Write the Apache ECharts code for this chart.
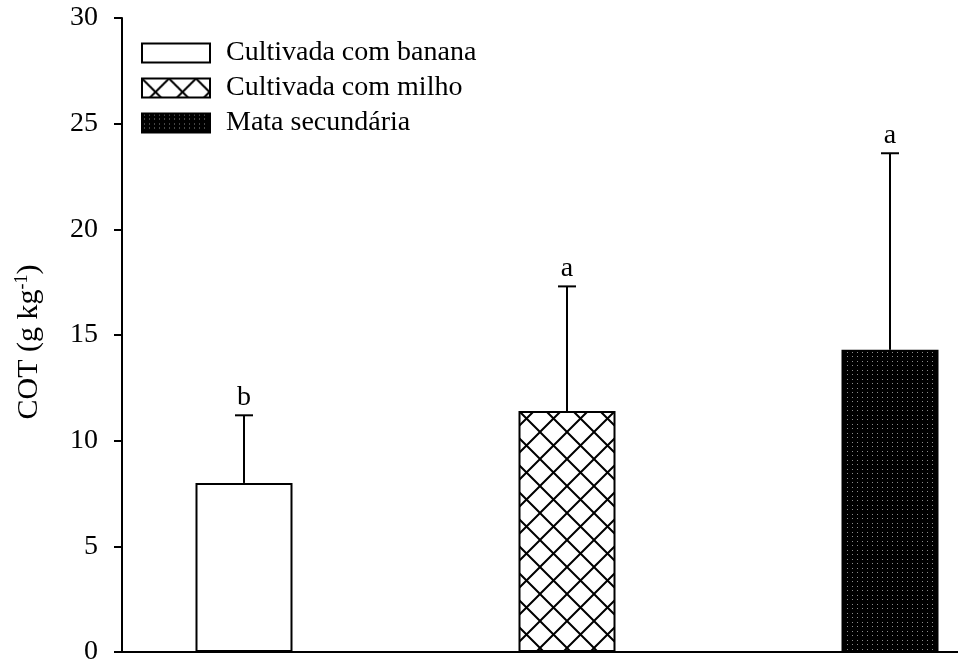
<!DOCTYPE html>
<html><head><meta charset="utf-8">
<script src="https://cdn.jsdelivr.net/npm/echarts@6/dist/echarts.min.js"></script>
<style>html,body{margin:0;padding:0;background:#fff}#c{width:958px;height:666px}</style>
</head><body><div id="c"></div>
<script>
var categories = ['Cultivada com banana', 'Cultivada com milho', 'Mata secundária'];
var means = [8.0, 11.4, 14.3];
var upperErr = [11.2, 17.3, 23.6];
var letters = ['b', 'a', 'a'];
var yTicks = [0, 5, 10, 15, 20, 25, 30];

var FONT = '"Liberation Serif", "Times New Roman", serif';

function hatch() {
  var s = 27, c = document.createElement('canvas');
  c.width = s; c.height = s;
  var g = c.getContext('2d');
  g.fillStyle = '#fff'; g.fillRect(0, 0, s, s);
  g.strokeStyle = '#000'; g.lineWidth = 2;
  g.beginPath();
  g.moveTo(-2, -2); g.lineTo(s + 2, s + 2);
  g.moveTo(s + 2, -2); g.lineTo(-2, s + 2);
  g.stroke();
  return c;
}
function dots() {
  var c = document.createElement('canvas');
  c.width = 5; c.height = 9;
  var g = c.getContext('2d');
  g.fillStyle = '#000'; g.fillRect(0, 0, 5, 9);
  g.fillStyle = '#8a8a8a';
  g.fillRect(2, 1, 1, 1);
  g.fillRect(2, 5, 1, 1);
  return c;
}
var fills = [
  '#ffffff',
  { image: hatch(), repeat: 'repeat' },
  { image: dots(), repeat: 'repeat' }
];

var barSeries = categories.map(function (name, i) {
  return {
    name: name,
    type: 'bar',
    barWidth: 97,
    barGap: '-100%',
    data: [[i + 1, means[i]]],
    itemStyle: { color: fills[i], borderColor: '#000', borderWidth: 2 },
    z: 2
  };
});

var errData = categories.map(function (n, i) { return [i + 1, means[i], upperErr[i], letters[i]]; });

var errSeries = {
  type: 'custom',
  name: 'err',
  z: 3,
  data: errData,
  renderItem: function (params, api) {
    var x = api.value(0);
    var top = api.coord([x, api.value(2)]);
    var base = api.coord([x, api.value(1)]);
    var letter = letters[params.dataIndex];
    return {
      type: 'group',
      children: [
        { type: 'line', shape: { x1: top[0], y1: top[1], x2: base[0], y2: base[1] }, style: { stroke: '#000', lineWidth: 2 } },
        { type: 'line', shape: { x1: top[0] - 9, y1: top[1], x2: top[0] + 9, y2: top[1] }, style: { stroke: '#000', lineWidth: 2 } },
        { type: 'text', x: top[0], y: top[1] - 4, style: { text: letter, fill: '#000', font: '28px ' + FONT, textAlign: 'center', textVerticalAlign: 'bottom' } }
      ]
    };
  }
};

var chart = echarts.init(document.getElementById('c'));
chart.setOption({
  animation: false,
  backgroundColor: '#fff',
  grid: { left: 122, right: 0, top: 18, bottom: 11 },
  legend: {
    data: categories,
    orient: 'vertical',
    left: 136, top: 34,
    itemWidth: 68, itemHeight: 19, itemGap: 7,
    icon: 'rect',
    textStyle: { fontFamily: FONT, fontSize: 28, lineHeight: 19, color: '#000', padding: [0, 0, 0, 11] },
    selectedMode: false
  },
  xAxis: {
    type: 'value',
    min: 0.6223, max: 3.2105,
    axisLine: { show: true, lineStyle: { color: '#000', width: 2 } },
    axisTick: { show: false },
    axisLabel: { show: false },
    splitLine: { show: false }
  },
  yAxis: {
    type: 'value',
    min: 0, max: 30, interval: 5,
    name: '{m|COT (g kg}{s|-1}{m|)}',
    nameLocation: 'middle',
    nameGap: 76,
    nameRotate: 90,
    nameTextStyle: {
      padding: [0, 14, 0, 0],
      rich: {
        m: { fontFamily: FONT, fontSize: 30, color: '#000' },
        s: { fontFamily: FONT, fontSize: 18, color: '#000', padding: [0, 0, 15, 0] }
      }
    },
    axisLine: { show: true, lineStyle: { color: '#000', width: 2 } },
    axisTick: { show: true, inside: false, length: 8, lineStyle: { color: '#000', width: 2 } },
    axisLabel: {
      margin: 24, fontFamily: FONT, fontSize: 28, color: '#000',
      formatter: function (v) { return yTicks.indexOf(v) >= 0 ? String(v) : ''; }
    },
    splitLine: { show: false }
  },
  series: barSeries.concat([errSeries])
});
</script>
</body></html>
